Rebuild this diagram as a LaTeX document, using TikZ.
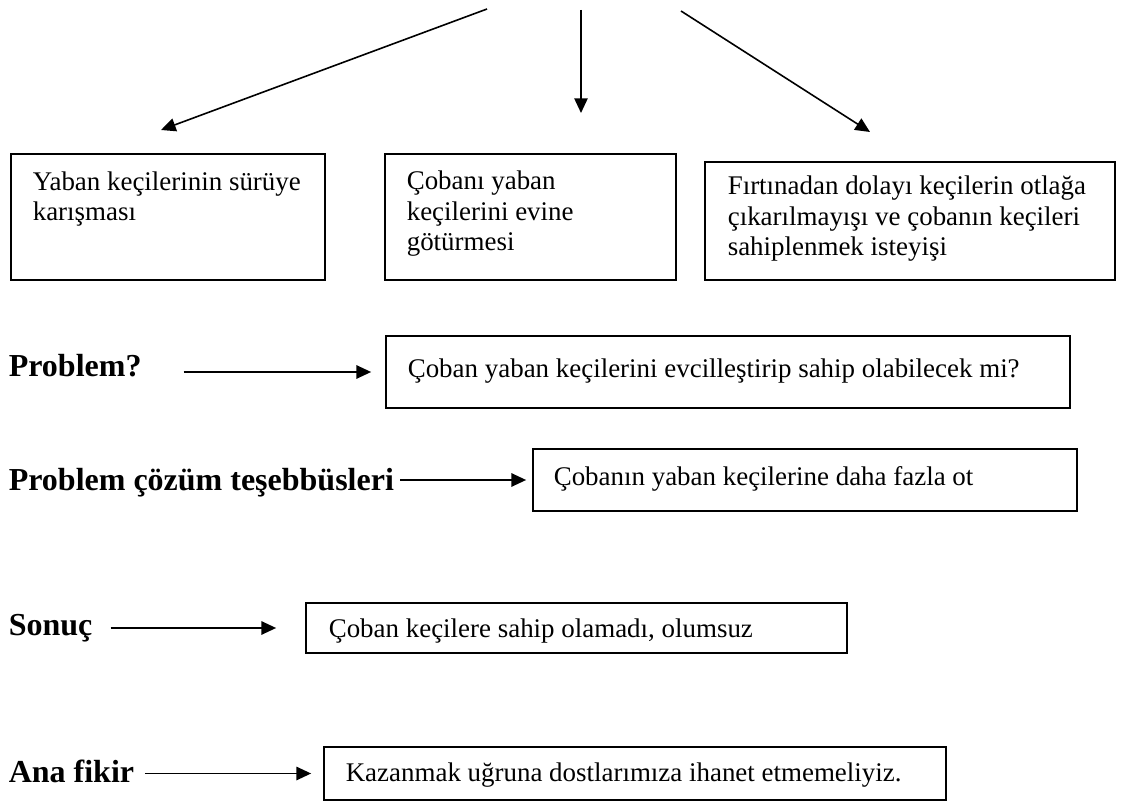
\documentclass[tikz,border=0pt]{standalone}
\usepackage{fontspec}
\setmainfont{Liberation Serif}
\usetikzlibrary{arrows.meta,fit}
\tikzset{every picture/.style={line width=1.2pt}}

\begin{document}
\begin{tikzpicture}[x=0.75pt,y=0.75pt,yscale=-1,xscale=1,
  box/.style={draw, line width=1.3pt, inner sep=0pt},
  txt/.style={anchor=base west, inner sep=0pt, align=left, font=\fontsize{20.2}{23}\selectfont},
  lbl/.style={anchor=base west, inner sep=0pt, font=\fontsize{24}{27}\selectfont\bfseries},
  arr/.style={-{Triangle[length=11pt,width=10pt]}, line width=1.2pt}]
\useasboundingbox (0,0) rectangle (1122,802);

%Top arrows
\coordinate (s1) at (487,9);
\coordinate (e1) at (161,130);
\coordinate (s2) at (581,10);
\coordinate (e2) at (581,113);
\coordinate (s3) at (681,11);
\coordinate (e3) at (870,132);
\draw[arr] (s1) -- (e1);
\draw[arr] (s2) -- (e2);
\draw[arr] (s3) -- (e3);

%Event boxes (text placed at the baseline of its last line)
\node[box, fit={(11,154) (325,280)}] (b1) {};
\node[box, fit={(385,154) (676,280)}] (b2) {};
\node[box, fit={(705,162) (1115,280)}] (b3) {};
\node[txt] (t1) at (32,221) {Yaban keçilerinin sürüye\\karışması};
\node[txt] (t2) at (406,251) {Çobanı yaban\\keçilerini evine\\götürmesi};
\node[txt] (t3) at (727,256) {Fırtınadan dolayı keçilerin otlağa\\çıkarılmayışı ve çobanın keçileri\\sahiplenmek isteyişi};

%Labels
\node[lbl] (lprob) at (8,377) {Problem?};
\node[lbl] (lcoz) at (8,490) {Problem çözüm teşebbüsleri};
\node[lbl] (lson) at (8,635) {Sonuç};
\node[lbl] (lana) at (8,782) {Ana fikir};

%Answer boxes
\node[box, fit={(386,336) (1070,408)}] (bprob) {};
\node[box, fit={(533,449) (1077,511)}] (bcoz) {};
\node[box, fit={(306,603) (847,653)}] (bson) {};
\node[box, fit={(324,747) (946,800)}] (bana) {};
\node[txt] (tprob) at (407,378) {Çoban yaban keçilerini evcilleştirip sahip olabilecek mi?};
\node[txt] (tcoz) at (553,485) {Çobanın yaban keçilerine daha fazla ot};
\node[txt] (tson) at (328,637) {Çoban keçilere sahip olamadı, olumsuz};
\node[txt] (tana) at (345,781) {Kazanmak uğruna dostlarımıza ihanet etmemeliyiz.};

%Label arrows
\draw[arr, shorten <=31pt, shorten >=10.5pt] (lprob.east |- bprob.west) -- (bprob.west);
\draw[arr, shorten <=4pt, shorten >=4.5pt] (lcoz.east |- bcoz.west) -- (bcoz.west);
\draw[arr, shorten <=13pt, shorten >=21.75pt] (lson.east |- bson.west) -- (bson.west);
\draw[arr, shorten <=7.5pt, shorten >=9pt] (lana.east |- bana.west) -- (bana.west);

\end{tikzpicture}
\end{document}
